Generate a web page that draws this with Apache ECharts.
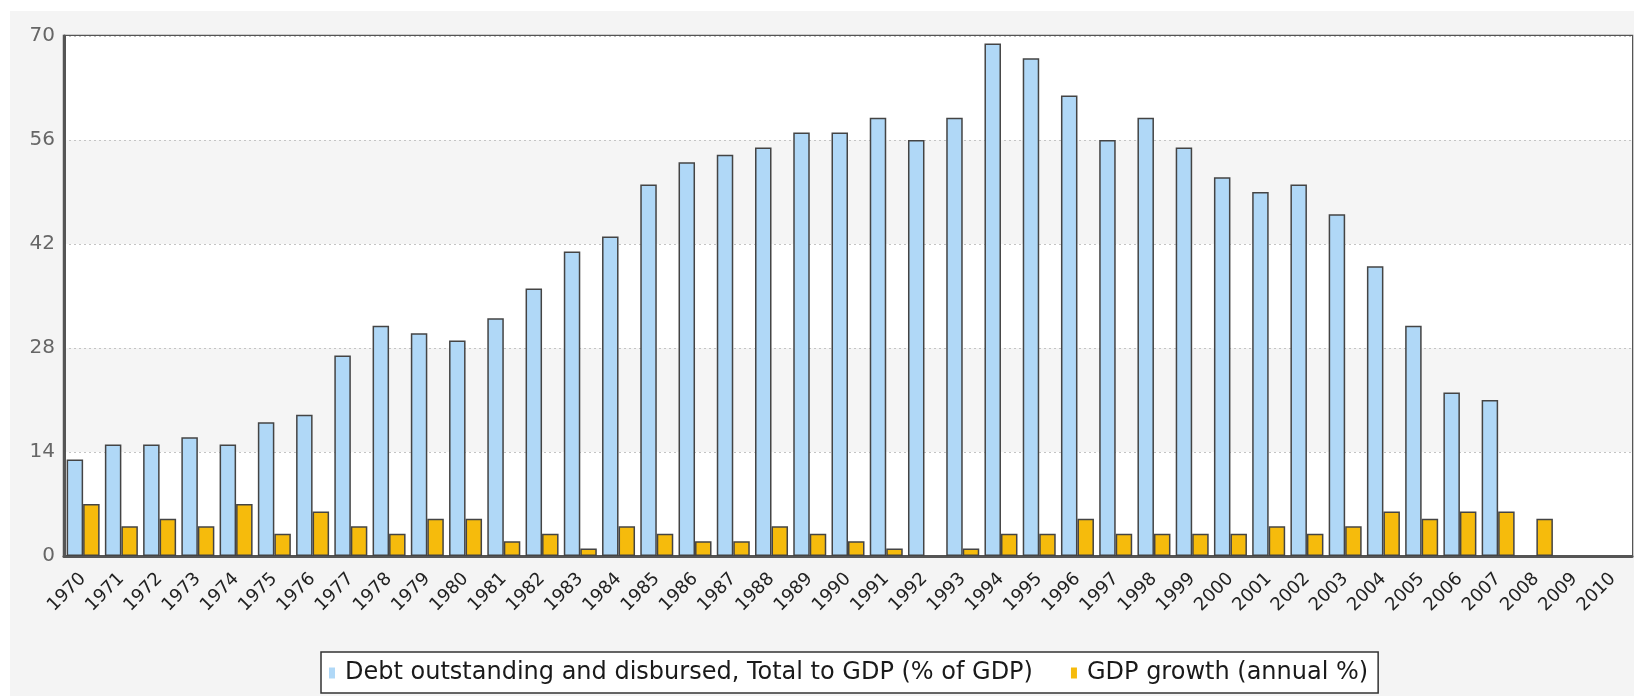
<!DOCTYPE html>
<html>
<head>
<meta charset="utf-8">
<title>Debt and GDP growth</title>
<script src="https://cdn.jsdelivr.net/npm/echarts@6.0.0/dist/echarts.min.js"></script>
<style>
  html, body { margin: 0; padding: 0; background: #fff; }
  #container { width: 1634px; height: 696px; }
</style>
</head>
<body>
<div id="container"></div>
<script>
// years on the x axis
const years = [
  '1970', '1971', '1972', '1973', '1974', '1975', '1976', '1977', '1978', '1979',
  '1980', '1981', '1982', '1983', '1984', '1985', '1986', '1987', '1988', '1989',
  '1990', '1991', '1992', '1993', '1994', '1995', '1996', '1997', '1998', '1999',
  '2000', '2001', '2002', '2003', '2004', '2005', '2006', '2007', '2008', '2009',
  '2010'
]

// Debt outstanding and disbursed, Total to GDP (% of GDP)
const debtToGdp = [
  13, 15, 15, 16, 15, 18, 19, 27, 31, 30,
  29, 32, 36, 41, 43, 50, 53, 54, 55, 57,
  57, 59, 56, 59, 69, 67, 62, 56, 59, 55,
  51, 49, 50, 46, 39, 31, 22, 21, null, null,
  null
]

// GDP growth (annual %)
const gdpGrowth = [
  7, 4, 5, 4, 7, 3, 6, 4, 3, 5,
  5, 2, 3, 1, 4, 3, 2, 2, 4, 3,
  2, 1, null, 1, 3, 3, 5, 3, 3, 3,
  3, 4, 3, 4, 6, 5, 6, 6, 5, null,
  null
]

// y axis ticks
const yTicks = [0, 14, 28, 42, 56, 70]

const seriesNames = [
  'Debt outstanding and disbursed, Total to GDP (% of GDP)',
  'GDP growth (annual %)'
]

const font = 'DejaVu Sans, Verdana, sans-serif'

let option = {
  backgroundColor: '#fff',
  animation: false,
  textStyle: { fontFamily: font },
  // grey panel behind the chart
  graphic: [
    {
      type: 'rect',
      z: -10,
      shape: { x: 10, y: 11, width: 1624, height: 685 },
      style: { fill: '#f4f4f4' }
    }
  ],
  grid: {
    left: 64,
    right: 2,
    top: 36,
    bottom: 140,
    show: true,
    borderColor: '#555',
    borderWidth: 2.5,
    backgroundColor: '#fff'
  },
  legend: {
    data: seriesNames,
    left: 321,
    top: 652,
    padding: [9, 10, 8, 8],
    itemWidth: 6,
    itemHeight: 11,
    itemGap: 38,
    borderColor: '#333',
    borderWidth: 1.5,
    borderRadius: 0,
    backgroundColor: '#fff',
    icon: 'rect',
    itemStyle: { borderWidth: 0 },
    textStyle: {
      color: '#1a1a1a',
      fontSize: 24,
      fontFamily: font,
      padding: [0, 0, 0, 5]
    }
  },
  xAxis: {
    type: 'category',
    data: years,
    boundaryGap: true,
    axisTick: { show: false },
    axisLine: { lineStyle: { color: '#555', width: 3 } },
    axisLabel: {
      interval: 0,
      rotate: 45,
      margin: 20,
      color: '#222',
      fontSize: 18,
      fontFamily: font
    }
  },
  yAxis: {
    type: 'value',
    min: yTicks[0],
    max: yTicks[yTicks.length - 1],
    interval: yTicks[1] - yTicks[0],
    axisLine: { show: true, lineStyle: { color: '#555', width: 3 } },
    axisTick: { show: false },
    axisLabel: {
      color: '#666',
      fontSize: 20,
      margin: 9,
      fontFamily: font
    },
    splitLine: {
      show: true,
      lineStyle: { color: '#c4c4c4', type: [2, 3], width: 1 }
    },
    splitArea: {
      show: true,
      areaStyle: { color: ['#fff', '#f5f5f5'] }
    }
  },
  series: [
    {
      name: seriesNames[0],
      type: 'bar',
      data: debtToGdp,
      barWidth: 16.5,
      barGap: '0%',
      itemStyle: { color: '#b0d8f7', borderColor: '#444', borderWidth: 1.5 }
    },
    {
      name: seriesNames[1],
      type: 'bar',
      data: gdpGrowth,
      barWidth: 16.5,
      itemStyle: { color: '#f6bb0c', borderColor: '#444', borderWidth: 1.5 }
    }
  ]
}

let dom = document.getElementById('container')
let myChart = echarts.init(dom)
myChart.setOption(option)
</script>
</body>
</html>
